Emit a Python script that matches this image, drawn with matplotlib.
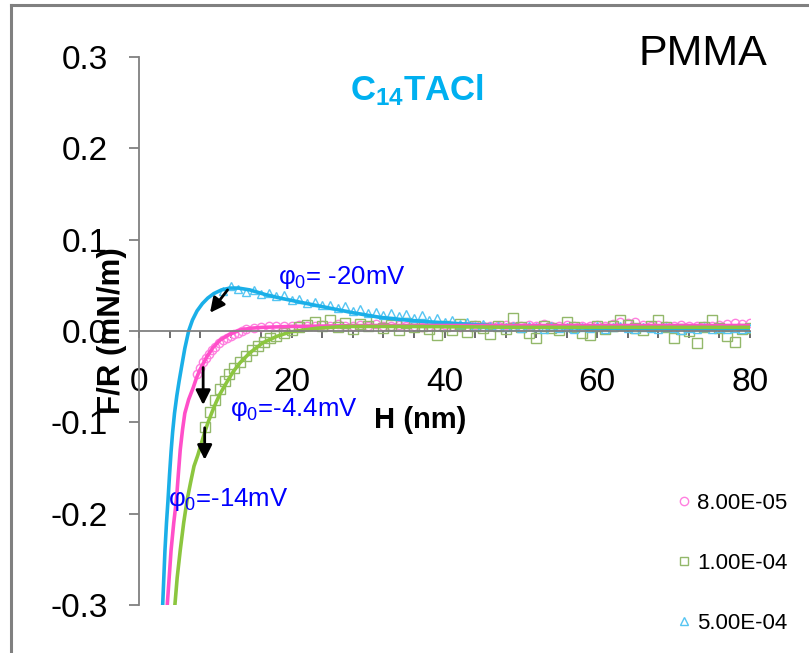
import matplotlib
matplotlib.use("Agg")
import matplotlib.pyplot as plt
from matplotlib.lines import Line2D

plt.rcParams['font.family'] = ['Liberation Sans', 'DejaVu Sans']
plt.rcParams['mathtext.fontset'] = 'custom'
plt.rcParams['mathtext.rm'] = 'Liberation Sans'
plt.rcParams['mathtext.it'] = 'Liberation Sans:italic'
plt.rcParams['mathtext.bf'] = 'Liberation Sans:bold'
plt.rcParams['axes.unicode_minus'] = False

# common sampling of the measured tail (nm)
h_tail = [18, 19, 20, 21, 22, 23, 24, 25, 26, 27,
          28, 29, 30, 31, 32, 33, 34, 35, 36, 37,
          38, 39, 40, 41, 42, 43, 44, 45, 46, 47,
          48, 49, 50, 51, 52, 53, 54, 55, 56, 57,
          58, 59, 60, 61, 62, 63, 64, 65, 66, 67,
          68, 69, 70, 71, 72, 73, 74, 75, 76, 77,
          78, 79, 80]

# 8.00E-05 (pink circles)
pink_h_head = [7.6, 8.0, 8.4, 8.8, 9.2, 9.6, 10.0, 10.5, 11.0, 11.5, 12.0, 12.5,
               13.0, 13.5, 14.0, 15.0, 16.0, 17.0]
pink_f_head = [-0.047, -0.040, -0.034, -0.030, -0.025, -0.021, -0.017, -0.013, -0.010,
               -0.008, -0.005, -0.003, -0.002, 0.000, 0.002, 0.003, 0.004, 0.006]
pink_f_tail = [0.005, 0.006, 0.005, 0.007, 0.006, 0.005, 0.007, 0.006, 0.008, 0.006,
               0.005, 0.007, 0.006, 0.008, 0.005, 0.006, 0.007, 0.005, 0.006, 0.004,
               0.006, 0.005, 0.007, 0.006, 0.004, 0.006, 0.007, 0.005, 0.006, 0.005,
               0.007, 0.006, 0.005, 0.007, 0.006, 0.008, 0.006, 0.005, 0.007, 0.006,
               0.005, 0.006, 0.007, 0.006, 0.008, 0.010, 0.009, 0.010, 0.007, 0.006,
               0.007, 0.005, 0.006, 0.007, 0.005, 0.006, 0.005, 0.006, 0.007, 0.008,
               0.009, 0.008, 0.009]

# 1.00E-04 (green squares)
green_h_head = [8.6, 9.3, 9.9, 10.6, 11.2, 11.8, 12.5, 13.2, 14.0, 14.8, 15.6, 16.4, 17.2]
green_f_head = [-0.105, -0.089, -0.076, -0.064, -0.055, -0.047, -0.040, -0.034, -0.027,
                -0.021, -0.016, -0.012, -0.008]
green_f_tail = [-0.005, -0.002, 0.001, 0.004, 0.007, 0.010, 0.006, 0.012, 0.004, 0.009,
                0.002, 0.008, 0.005, 0.011, 0.003, 0.007, 0.001, 0.009, 0.004, 0.006,
                0.002, -0.004, 0.005, 0.001, 0.008, -0.001, 0.006, 0.003, -0.003, 0.005,
                0.002, 0.014, 0.004, -0.002, -0.008, 0.005, 0.003, 0.001, 0.010, 0.004,
                -0.002, -0.004, 0.006, 0.002, 0.005, 0.012, 0.007, 0.003, 0.001, 0.006,
                0.012, 0.004, -0.008, 0.002, 0.000, -0.013, 0.004, 0.012, 0.003, -0.005,
                -0.012, 0.002, 0.003]

# 5.00E-04 (blue triangles)
blue_h_head = [11, 12, 13, 14, 15, 16, 17]
blue_f_head = [0.044, 0.049, 0.046, 0.043, 0.045, 0.041, 0.042]
blue_f_tail = [0.038, 0.039, 0.034, 0.035, 0.031, 0.032, 0.028, 0.029, 0.025, 0.027,
               0.022, 0.024, 0.020, 0.021, 0.017, 0.020, 0.016, 0.019, 0.014, 0.017,
               0.012, 0.014, 0.010, 0.012, 0.008, 0.010, 0.006, 0.008, 0.005, 0.006,
               0.004, 0.006, 0.003, 0.005, 0.004, 0.002, 0.005, 0.003, 0.004, 0.002,
               0.004, 0.003, 0.005, 0.002, 0.004, 0.006, 0.003, 0.002, 0.004, 0.003,
               0.002, 0.004, 0.003, 0.001, 0.003, 0.002, 0.004, 0.002, 0.003, 0.002,
               0.003, 0.002, 0.003]

# fitted curves
fit_blue_h = [3.0, 3.1, 3.25, 3.4, 3.6, 3.8, 4.0, 4.2, 4.4, 4.65, 4.95, 5.25, 5.6, 6.0, 6.5,
              7.0, 7.6, 8.3, 9.0, 9.8, 10.8, 11.9, 13.0, 14.5, 16.5, 18.5, 22, 25, 28,
              31.5, 35, 38, 42, 46, 50, 60, 70, 80]
fit_blue_f = [-0.32, -0.30, -0.27, -0.24, -0.21, -0.185, -0.157, -0.132, -0.111, -0.09,
              -0.071, -0.055, -0.038, -0.019, 0.0, 0.012, 0.022, 0.030, 0.036, 0.041,
              0.045, 0.047, 0.047, 0.045, 0.040, 0.036, 0.030, 0.025, 0.020, 0.015,
              0.012, 0.010, 0.008, 0.006, 0.0045, 0.003, 0.0025, 0.002]
fit_pink_h = [3.5, 3.7, 3.95, 4.2, 4.55, 4.9, 5.15, 5.4, 5.7, 6.0, 6.5, 7.1, 7.5, 8.0, 8.9,
              9.7, 10.6, 11.8, 13.2, 14.6, 16.2, 20, 30, 40, 50, 60, 70, 80]
fit_pink_f = [-0.32, -0.30, -0.27, -0.24, -0.21, -0.185, -0.157, -0.13, -0.108, -0.09,
              -0.075, -0.062, -0.052, -0.042, -0.028, -0.018, -0.010, -0.004, 0.001,
              0.003, 0.004, 0.005, 0.006, 0.006, 0.006, 0.006, 0.006, 0.006]
fit_green_h = [4.6, 4.7, 5.0, 5.4, 5.85, 6.3, 6.75, 7.2, 7.7, 8.2, 8.6, 9.0, 9.6, 10.1,
               10.6, 11.5, 12.3, 13.2, 14.5, 16.2, 18, 19.8, 23.3, 27, 35, 50, 65, 80]
fit_green_f = [-0.32, -0.30, -0.27, -0.24, -0.21, -0.185, -0.166, -0.148, -0.136, -0.122,
               -0.111, -0.101, -0.088, -0.078, -0.069, -0.056, -0.045, -0.035, -0.024,
               -0.013, -0.006, -0.001, 0.003, 0.005, 0.005, 0.004, 0.004, 0.004]

labels = ['8.00E-05', '1.00E-04', '5.00E-04']

W, H = 809, 653
fig = plt.figure(figsize=(W / 100, H / 100), dpi=100)
ax = fig.add_axes([139 / W, 1 - 605 / H, (750 - 139) / W, (605 - 57) / H])

# outer frame (top and left edges visible)
fig.add_artist(Line2D([11 / W, 11 / W], [0, 1 - 5 / H], transform=fig.transFigure,
                      color='#808080', lw=2.2))
fig.add_artist(Line2D([11 / W, 1], [1 - 5 / H, 1 - 5 / H], transform=fig.transFigure,
                      color='#808080', lw=2.2))

ax.plot(pink_h_head + h_tail, pink_f_head + pink_f_tail, ls='none', marker='o', ms=6,
        mfc='none', mec='#FF7FDF', mew=1.0)
ax.plot(green_h_head + h_tail, green_f_head + green_f_tail, ls='none', marker='s', ms=6.5,
        mfc='none', mec='#93B86A', mew=1.0)
ax.plot(blue_h_head + h_tail, blue_f_head + blue_f_tail, ls='none', marker='^', ms=6,
        mfc='none', mec='#55C5F2', mew=1.0)

ax.plot(fit_blue_h, fit_blue_f, color='#1AAFE8', lw=2.6)
ax.plot(fit_pink_h, fit_pink_f, color='#FF4FC9', lw=2.6)
ax.plot(fit_green_h, fit_green_f, color='#8CC63F', lw=2.6)

ax.set_xlim(0, 80)
ax.set_ylim(-0.3, 0.3)
for s in ['top', 'right']:
    ax.spines[s].set_visible(False)
ax.spines['bottom'].set_position(('data', 0))
for s in ['left', 'bottom']:
    ax.spines[s].set_color('#808080')
    ax.spines[s].set_linewidth(1.3)

ax.set_xticks([0, 20, 40, 60, 80])
ax.set_xticks([4, 8, 12, 16, 24, 28, 32, 36, 44, 48, 52, 56, 64, 68, 72, 76], minor=True)
ax.set_yticks([-0.3, -0.2, -0.1, 0.0, 0.1, 0.2, 0.3])
ax.set_yticklabels(['-0.3', '-0.2', '-0.1', '0.0', '0.1', '0.2', '0.3'])
ax.tick_params(axis='x', which='both', direction='out', length=5, width=1.3,
               color='#606060', pad=21, labelsize=24)
ax.tick_params(axis='y', direction='out', length=7.5, width=1.3, color='#808080',
               pad=15, labelsize=24)

ax.text(36.8, -0.0975, 'H (nm)', fontsize=21, fontweight='bold', ha='center', va='center')
ax.text(-3.5, 0.0, 'F/R (mN/m)', fontsize=22.5, fontweight='bold', rotation=90,
        ha='center', va='center', clip_on=False)

fig.text(638 / W, 1 - 54 / H, 'PMMA', fontsize=31, va='center', ha='left')
ax.text(27.6, 0.264, r'$\mathbf{C_{14}TACl}$', fontsize=25, color='#00B0F0',
        va='center', ha='left')

blue_txt = '#0000FF'
ax.text(18.2, 0.059, 'φ$_0$= -20mV', fontsize=18.5, color=blue_txt, va='center')
ax.text(11.9, -0.086, 'φ$_0$=-4.4mV', fontsize=18.5, color=blue_txt, va='center')
ax.text(3.8, -0.185, 'φ$_0$=-14mV', fontsize=18.5, color=blue_txt, va='center')

arrow = dict(arrowstyle='-|>', color='black', lw=2, mutation_scale=22,
             shrinkA=0, shrinkB=0)
ax.annotate('', xy=(9.3, 0.020), xytext=(11.6, 0.045), arrowprops=arrow)
ax.annotate('', xy=(8.4, -0.081), xytext=(8.4, -0.040), arrowprops=arrow)
ax.annotate('', xy=(8.6, -0.141), xytext=(8.6, -0.106), arrowprops=arrow)

handles = [
    Line2D([], [], ls='none', marker='o', ms=6, mfc='none', mec='#FF7FDF', mew=1.0),
    Line2D([], [], ls='none', marker='s', ms=6, mfc='none', mec='#93B86A', mew=1.0),
    Line2D([], [], ls='none', marker='^', ms=6, mfc='none', mec='#55C5F2', mew=1.0),
]
ax.legend(handles, labels, loc='upper left', bbox_to_anchor=(668 / W, 1 - 482 / H),
          bbox_transform=fig.transFigure, frameon=False, fontsize=16,
          labelspacing=1.75, handlelength=0.4, handletextpad=0.4, borderpad=0)

fig.savefig('out.png', dpi=100)
